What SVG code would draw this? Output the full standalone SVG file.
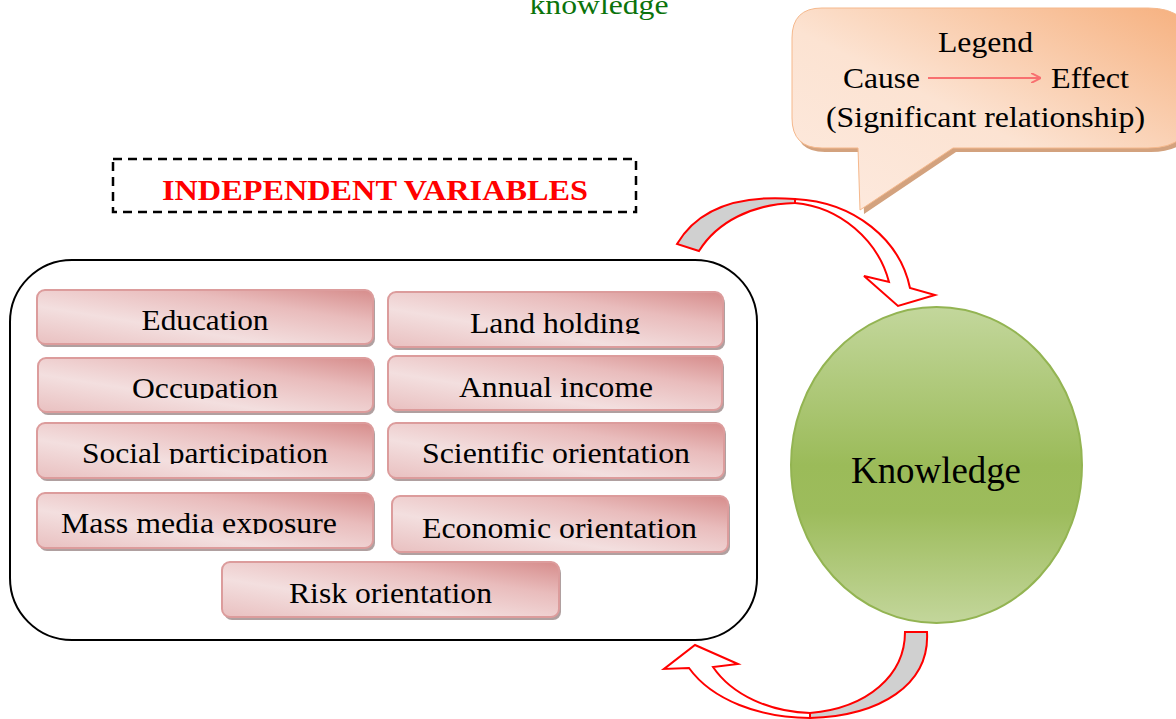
<svg xmlns="http://www.w3.org/2000/svg" width="1176" height="719" viewBox="0 0 1176 719">
<style>
.t{font-family:"Liberation Serif","Times New Roman",serif;fill:#000;}
.bt{font-family:"Liberation Serif","Times New Roman",serif;font-size:29px;fill:#000;text-anchor:middle;}
.box{fill:url(#pink);stroke:#dc9c9c;stroke-width:2;}
.sh{fill:#9c8888;opacity:0.8;}
.arr{stroke:#ff0000;stroke-width:2;stroke-linejoin:miter;}
</style>
<defs>
<linearGradient id="pink" x1="0" y1="1" x2="1" y2="0">
<stop offset="0" stop-color="#e9c0c0"/>
<stop offset="0.35" stop-color="#f3dfdf"/>
<stop offset="0.7" stop-color="#e9bcbc"/>
<stop offset="1" stop-color="#d68c8b"/>
</linearGradient>
<linearGradient id="green" x1="0" y1="0" x2="0" y2="1">
<stop offset="0" stop-color="#c3d79c"/>
<stop offset="0.5" stop-color="#9bbb59"/>
<stop offset="0.65" stop-color="#9dbc5c"/>
<stop offset="1" stop-color="#c3d69b"/>
</linearGradient>
<linearGradient id="orange" x1="0" y1="1" x2="1" y2="0">
<stop offset="0" stop-color="#fdeadf"/>
<stop offset="0.45" stop-color="#fce3d2"/>
<stop offset="1" stop-color="#f6b07e"/>
</linearGradient>
<marker id="ah" markerWidth="10" markerHeight="10" refX="9" refY="5" orient="auto" markerUnits="userSpaceOnUse">
<path d="M0,0 L10,5 L0,10" fill="none" stroke="#f87070" stroke-width="2"/>
</marker>
<clipPath id="c1" clipPathUnits="userSpaceOnUse"><rect x="37" y="290" width="336" height="41"/></clipPath>
<clipPath id="c2" clipPathUnits="userSpaceOnUse"><rect x="388" y="292" width="335" height="42"/></clipPath>
<clipPath id="c3" clipPathUnits="userSpaceOnUse"><rect x="38" y="358" width="335" height="41"/></clipPath>
<clipPath id="c4" clipPathUnits="userSpaceOnUse"><rect x="388" y="356" width="334" height="42"/></clipPath>
<clipPath id="c5" clipPathUnits="userSpaceOnUse"><rect x="37" y="423" width="336" height="41"/></clipPath>
<clipPath id="c6" clipPathUnits="userSpaceOnUse"><rect x="388" y="423" width="336" height="41"/></clipPath>
<clipPath id="c7" clipPathUnits="userSpaceOnUse"><rect x="37" y="493" width="336" height="41"/></clipPath>
<clipPath id="c8" clipPathUnits="userSpaceOnUse"><rect x="392" y="496" width="336" height="43"/></clipPath>
<clipPath id="c9" clipPathUnits="userSpaceOnUse"><rect x="222" y="562" width="337" height="42"/></clipPath>
</defs>

<text id="top-label" class="t" x="599" y="14" font-size="28" text-anchor="middle" textLength="139" lengthAdjust="spacingAndGlyphs" style="fill:#0b730b">knowledge</text>

<g id="legend">
<path d="M825,12 L1151,12 Q1195,12 1195,52 L1195,112 Q1195,152 1151,152 L956,152 L864,214 L862,152 L825,152 Q795,152 795,122 L795,42 Q795,12 825,12 Z" fill="#d3a27e"/>
<path d="M822,8 L1148,8 Q1192,8 1192,48 L1192,108 Q1192,148 1148,148 L953,148 L860,210 L858,148 L822,148 Q792,148 792,118 L792,38 Q792,8 822,8 Z" fill="url(#orange)" stroke="#f5b88c" stroke-width="1"/>
<text class="t" x="985.5" y="52" font-size="29" text-anchor="middle" textLength="95" lengthAdjust="spacingAndGlyphs">Legend</text>
<text class="t" x="843" y="88" font-size="29" textLength="77" lengthAdjust="spacingAndGlyphs">Cause</text>
<line x1="928" y1="78" x2="1040" y2="78" stroke="#f87070" stroke-width="2" marker-end="url(#ah)"/>
<text class="t" x="1051" y="88" font-size="29" textLength="78" lengthAdjust="spacingAndGlyphs">Effect</text>
<text class="t" x="826" y="127" font-size="29" textLength="319" lengthAdjust="spacingAndGlyphs">(Significant relationship)</text>
</g>

<g id="header">
<rect x="113" y="159" width="523" height="53" fill="none" stroke="#000" stroke-width="2.5" stroke-dasharray="9,6"/>
<text x="375" y="200" font-family="Liberation Serif, Times New Roman, serif" font-size="30" font-weight="bold" fill="#ff0000" text-anchor="middle" textLength="426" lengthAdjust="spacingAndGlyphs">INDEPENDENT VARIABLES</text>
</g>

<g id="group-container">
<rect x="10" y="260" width="747" height="380" rx="62" ry="62" fill="#fff" stroke="#000" stroke-width="2"/>
</g>

<g id="education">
<rect class="sh" x="39" y="293" width="336" height="54" rx="8"/>
<rect class="box" x="37" y="290" width="336" height="54" rx="8"/>
<text class="bt" x="205" y="330" textLength="127" lengthAdjust="spacingAndGlyphs" clip-path="url(#c1)">Education</text>
</g>
<g id="land-holding">
<rect class="sh" x="390" y="295" width="335" height="55" rx="8"/>
<rect class="box" x="388" y="292" width="335" height="55" rx="8"/>
<text class="bt" x="555" y="333" textLength="170" lengthAdjust="spacingAndGlyphs" clip-path="url(#c2)">Land holding</text>
</g>
<g id="occupation">
<rect class="sh" x="40" y="361" width="335" height="54" rx="8"/>
<rect class="box" x="38" y="358" width="335" height="54" rx="8"/>
<text class="bt" x="205" y="398" textLength="146" lengthAdjust="spacingAndGlyphs" clip-path="url(#c3)">Occupation</text>
</g>
<g id="annual-income">
<rect class="sh" x="390" y="359" width="334" height="54" rx="8"/>
<rect class="box" x="388" y="356" width="334" height="54" rx="8"/>
<text class="bt" x="556" y="397" textLength="194" lengthAdjust="spacingAndGlyphs" clip-path="url(#c4)">Annual income</text>
</g>
<g id="social-participation">
<rect class="sh" x="39" y="426" width="336" height="55" rx="8"/>
<rect class="box" x="37" y="423" width="336" height="55" rx="8"/>
<text class="bt" x="205" y="463" textLength="246" lengthAdjust="spacingAndGlyphs" clip-path="url(#c5)">Social participation</text>
</g>
<g id="scientific-orientation">
<rect class="sh" x="390" y="426" width="336" height="55" rx="8"/>
<rect class="box" x="388" y="423" width="336" height="55" rx="8"/>
<text class="bt" x="556" y="463" textLength="268" lengthAdjust="spacingAndGlyphs" clip-path="url(#c6)">Scientific orientation</text>
</g>
<g id="mass-media-exposure">
<rect class="sh" x="39" y="496" width="336" height="55" rx="8"/>
<rect class="box" x="37" y="493" width="336" height="55" rx="8"/>
<text class="bt" x="199" y="533" textLength="276" lengthAdjust="spacingAndGlyphs" clip-path="url(#c7)">Mass media exposure</text>
</g>
<g id="economic-orientation">
<rect class="sh" x="394" y="499" width="336" height="56" rx="8"/>
<rect class="box" x="392" y="496" width="336" height="56" rx="8"/>
<text class="bt" x="559.5" y="538" textLength="275" lengthAdjust="spacingAndGlyphs" clip-path="url(#c8)">Economic orientation</text>
</g>
<g id="risk-orientation">
<rect class="sh" x="224" y="565" width="337" height="55" rx="8"/>
<rect class="box" x="222" y="562" width="337" height="55" rx="8"/>
<text class="bt" x="390.5" y="603" textLength="203" lengthAdjust="spacingAndGlyphs" clip-path="url(#c9)">Risk orientation</text>
</g>

<g id="knowledge">
<ellipse cx="936.5" cy="465" rx="145.5" ry="158" fill="url(#green)" stroke="#93b452" stroke-width="2"/>
<text class="t" x="936" y="483" font-size="37" text-anchor="middle" textLength="170" lengthAdjust="spacingAndGlyphs">Knowledge</text>
</g>

<g id="connectors">
<path class="arr" fill="#d0d0d0" d="M677,244 C700,205 745,195 795,199 L795,203 C752,204 717,222 699,251 Z"/>
<path class="arr" fill="#fff" d="M795,199 C855,202 900,240 910,288 L935,295 L898,306 L864,276 L889,282 C878,240 840,207 795,203 Z"/>
<path class="arr" fill="#d0d0d0" d="M927,632 C930,685 880,716 810,718 L810,713 C868,708 905,675 905,632 Z"/>
<path class="arr" fill="#fff" d="M810,718 C760,718 712,700 689,668 L664,669 L695,645 L738,664 L713,667 C732,695 770,712 810,713 Z"/>
</g>
</svg>
